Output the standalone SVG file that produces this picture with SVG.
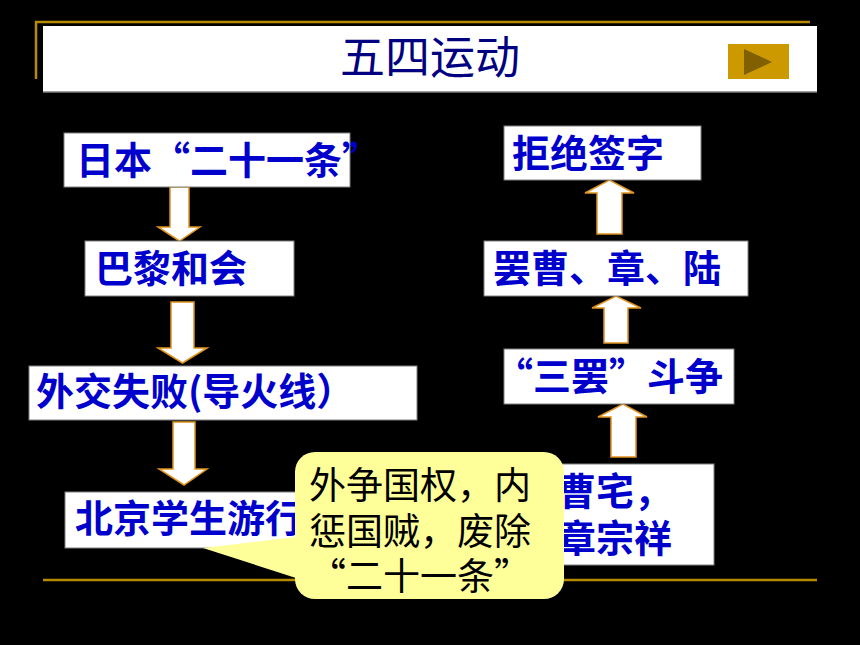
<svg xmlns="http://www.w3.org/2000/svg" width="860" height="645" viewBox="0 0 860 645">
<style>
.box{fill:#fff;stroke:#808080;stroke-width:1}
.bt{font-family:"Noto Sans CJK SC","Noto Sans",sans-serif;font-weight:bold;font-size:38px;fill:#0000CC}
.ct{font-family:"Noto Sans CJK SC","Noto Sans",sans-serif;font-size:37px;fill:#000}
.arr{fill:#fff;stroke:#E0921E;stroke-width:1.5;stroke-linejoin:miter}
.gold{stroke:#B88A00;stroke-width:2.5;fill:none}
</style>
<rect width="860" height="645" fill="#000"/>
<g id="frame">
<path class="gold" d="M36,79 V22 H810"/>
<line class="gold" x1="43" y1="580" x2="817" y2="580"/>
</g>
<g id="title">
<rect x="43" y="26" width="774" height="66" fill="#fff"/>
<line x1="43" y1="92" x2="817" y2="92" stroke="#808080" stroke-width="1.5"/>
<text x="430" y="74" text-anchor="middle" font-family="Noto Sans CJK SC, sans-serif" font-size="45" fill="#000080">五四运动</text>
<rect x="728" y="44" width="61" height="35" fill="#CC9900"/>
<polygon points="744,49 772,62 744,75" fill="#806000"/>
</g>
<g id="connectors">
<path class="arr" d="M170,187 H189 V227 H200 L179.5,241 L158,227 H170 Z"/>
<path class="arr" d="M171,302 H194 V348 H207 L182.5,363 L158,348 H171 Z"/>
<path class="arr" d="M173,422 H195 V469 H207 L184,485 L159,469 H173 Z"/>
<path class="arr" d="M597,234 H622 V193 H634 L609.5,180 L585,193 H597 Z"/>
<path class="arr" d="M604,343 H628 V308 H641 L616,296 L592,308 H604 Z"/>
<path class="arr" d="M611,457 H636 V417 H647 L623,404 L598,417 H611 Z"/>
</g>
<g id="n1">
<rect class="box" x="64" y="133" width="286" height="54"/>
<text class="bt" x="76" y="174">日本“二十一条”</text>
</g>
<g id="n2">
<rect class="box" x="85" y="241" width="209" height="55"/>
<text class="bt" x="95" y="282">巴黎和会</text>
</g>
<g id="n3">
<rect class="box" x="29" y="366" width="388" height="54"/>
<text class="bt" x="36" y="405">外交失败(导火线）</text>
</g>
<g id="n4">
<rect class="box" x="65" y="492" width="355" height="56"/>
<text class="bt" x="75" y="532">北京学生游行</text>
</g>
<g id="r1">
<rect class="box" x="504" y="126" width="197" height="54"/>
<text class="bt" x="512" y="167">拒绝签字</text>
</g>
<g id="r2">
<rect class="box" x="484" y="241" width="264" height="55"/>
<text class="bt" x="493" y="282">罢曹、章、陆</text>
</g>
<g id="r3">
<rect class="box" x="504" y="349" width="230" height="55"/>
<text class="bt" x="495" y="390">“三罢”斗争</text>
</g>
<g id="r4">
<rect class="box" x="500" y="464" width="214" height="101"/>
<text class="bt" x="558" y="505">曹宅，</text>
<text class="bt" x="558" y="552">章宗祥</text>
</g>
<g id="callout">
<path d="M203,548 L296,537 L296,578 Z" fill="#FFFF99"/>
<rect x="295" y="452" width="269" height="147" rx="20" ry="20" fill="#FFFF99"/>
<text class="ct" x="309" y="499">外争国权，内</text>
<text class="ct" x="309" y="545">惩国贼，废除</text>
<text class="ct" x="309" y="590">“二十一条”</text>
</g>
</svg>
